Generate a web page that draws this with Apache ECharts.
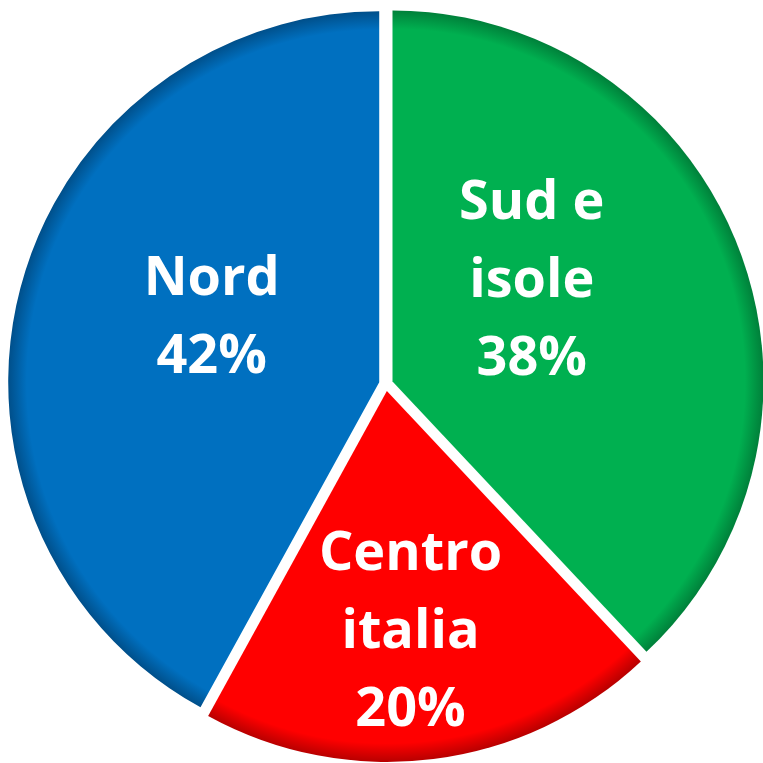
<!DOCTYPE html>
<html>
<head>
<meta charset="utf-8">
<style>
html,body{margin:0;padding:0;background:#fff;}
#chart{width:763px;height:763px;}
</style>
<script src="https://cdn.jsdelivr.net/npm/echarts@6/dist/echarts.min.js"></script>
</head>
<body>
<div id="chart"></div>
<script>
const categories = ['Sud e isole', 'Centro italia', 'Nord'];
const values = [38, 20, 42];
const colors = ['#00B050', '#FF0000', '#0070C0'];
const rimColors = ['#00803a', '#b80000', '#004f8a'];
const labelShift = [[-36, -30], [0, 55], [15, -17]];

const CX = 386, CY = 384, R = 371;

const chart = echarts.init(document.getElementById('chart'), null, {renderer: 'canvas'});

const data = categories.map((name, i) => ({
  name: name,
  value: values[i],
  selected: true,
  itemStyle: {
    color: {
      type: 'radial', x: CX, y: CY, r: R, global: true,
      colorStops: [
        {offset: 0, color: colors[i]},
        {offset: 0.95, color: colors[i]},
        {offset: 1, color: rimColors[i]}
      ]
    }
  }
}));

function wrapName(name) {
  const k = name.lastIndexOf(' ');
  return k < 0 ? name : name.slice(0, k) + '\n' + name.slice(k + 1);
}

chart.setOption({
  animation: false,
  series: [{
    type: 'pie',
    center: [CX, CY],
    radius: [0, R],
    startAngle: 90,
    clockwise: true,
    selectedMode: 'multiple',
    selectedOffset: 7,
    data: data,
    label: {
      show: true,
      position: 'inside',
      color: '#ffffff',
      fontFamily: 'Open Sans',
      fontWeight: 'bold',
      fontSize: 54,
      lineHeight: 78,
      align: 'center',
      formatter: p => wrapName(p.name) + '\n' + p.value + '%'
    },
    labelLine: {show: false},
    labelLayout: function (params) {
      const s = labelShift[params.dataIndex];
      return {dx: s[0], dy: s[1]};
    },
    emphasis: {disabled: true},
    select: {disabled: false, itemStyle: {}}
  }]
});
</script>
</body>
</html>
